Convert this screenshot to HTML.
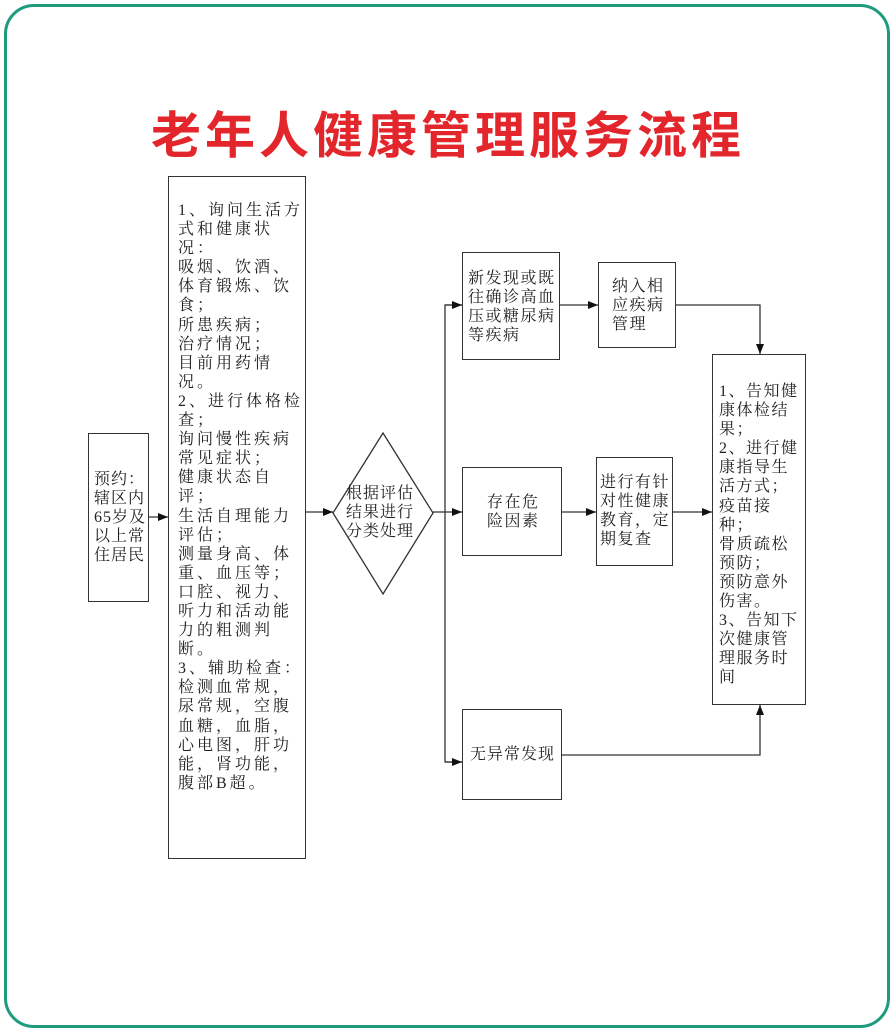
<!DOCTYPE html>
<html><head><meta charset="utf-8"><style>
body{margin:0;width:896px;height:1033px;background:#fff;position:relative;overflow:hidden;font-family:"Liberation Serif","Noto Serif CJK SC",serif;}
.frame{position:absolute;left:4px;top:4px;width:880px;height:1018px;border:3px solid #1e9a7c;border-radius:30px;}
.title{position:absolute;left:0;width:896px;top:96px;text-align:center;color:#e3262b;font-size:50px;font-weight:bold;letter-spacing:4px;font-family:"Noto Sans CJK SC",sans-serif;}
.b{position:absolute;border:1.3px solid #333;box-sizing:border-box;font-size:16px;line-height:19.1px;letter-spacing:3px;color:#222;}
</style></head><body>
<div class="frame"></div>
<div class="title">老年人健康管理服务流程</div>
<div class="b" style="left:88px;top:433px;width:61px;height:169px;padding:36px 0 0 5px;line-height:19px;letter-spacing:1px;font-size:16px">预约：<br>辖区内<br>65岁及<br>以上常<br>住居民</div>
<div class="b" style="left:168px;top:176px;width:138px;height:683px;padding:24px 0 0 9px;">1、询问生活方式和健康状况：<br>吸烟、饮酒、体育锻炼、饮食；<br>所患疾病；<br>治疗情况；<br>目前用药情况。<br>2、进行体格检查；<br>询问慢性疾病常见症状；<br>健康状态自评；<br>生活自理能力评估；<br>测量身高、体重、血压等；<br>口腔、视力、听力和活动能力的粗测判断。<br>3、辅助检查：检测血常规，尿常规，空腹血糖，血脂，心电图，肝功能，肾功能，腹部B超。</div>
<div class="b" style="left:462px;top:252px;width:98px;height:108px;padding:16px 0 0 5px;letter-spacing:1.5px">新发现或既往确诊高血压或糖尿病等疾病</div>
<div class="b" style="left:598px;top:262px;width:78px;height:86px;padding:14px 0 0 13px;letter-spacing:1.5px">纳入相应疾病管理</div>
<div class="b" style="left:462px;top:467px;width:100px;height:89px;padding:25px 0 0 24px;letter-spacing:1.5px;width:100px">存在危<br>险因素</div>
<div class="b" style="left:596px;top:457px;width:77px;height:109px;padding:15px 0 0 3px;letter-spacing:1.5px">进行有针对性健康教育，定期复查</div>
<div class="b" style="left:712px;top:354px;width:94px;height:351px;padding:27px 0 0 6px;letter-spacing:1.5px">1、告知健康体检结果；<br>2、进行健康指导生活方式；<br>疫苗接种；<br>骨质疏松预防；<br>预防意外伤害。<br>3、告知下次健康管理服务时间</div>
<div class="b" style="left:462px;top:709px;width:100px;height:91px;padding:35px 0 0 7px;letter-spacing:1px;border-width:1.3px">无异常发现</div>
<svg width="896" height="1033" style="position:absolute;left:0;top:0" fill="none" stroke="#333" stroke-width="1.3">
<defs><marker id="a" markerWidth="10" markerHeight="8" refX="10" refY="4" orient="auto" markerUnits="userSpaceOnUse"><path d="M0,0L10,4L0,8z" fill="#111" stroke="none"/></marker></defs>
<polygon points="383,433 433,513 383,594 333,513"/>
<line x1="149" y1="517" x2="168" y2="517" marker-end="url(#a)"/>
<line x1="306" y1="512" x2="333" y2="512" marker-end="url(#a)"/>
<line x1="433" y1="512" x2="462" y2="512" marker-end="url(#a)"/>
<polyline points="462,305 445,305 445,762 462,762"/>
<line x1="445" y1="305" x2="462" y2="305" marker-end="url(#a)"/>
<line x1="445" y1="762" x2="462" y2="762" marker-end="url(#a)"/>
<line x1="560" y1="305" x2="598" y2="305" marker-end="url(#a)"/>
<polyline points="676,305 760,305 760,354" marker-end="url(#a)"/>
<line x1="562" y1="512" x2="596" y2="512" marker-end="url(#a)"/>
<line x1="673" y1="512" x2="712" y2="512" marker-end="url(#a)"/>
<polyline points="562,755 760,755 760,705" marker-end="url(#a)"/>
</svg>
<div style="position:absolute;left:346px;top:484px;font-size:16px;line-height:19px;letter-spacing:1px;color:#222">根据评估<br>结果进行<br>分类处理</div>
</body></html>
